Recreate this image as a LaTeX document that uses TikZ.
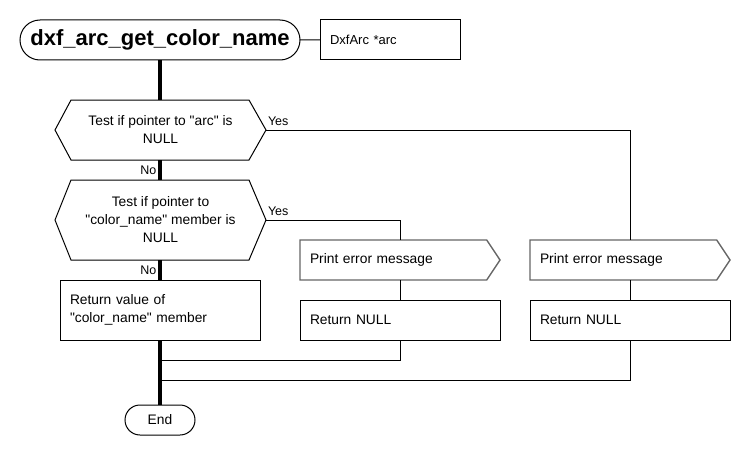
\documentclass[tikz,border=0pt]{standalone}
\usepackage{fontspec}
\setmainfont{Liberation Sans}
\usepackage{tikz}
\usetikzlibrary{shapes.misc,positioning}

\newcommand{\txt}{\fontsize{13.8}{18}\selectfont}
\newcommand{\lbltxt}{\fontsize{12.5}{15}\selectfont}
\newcommand{\q}{\textquotedbl}
% outline of a test node: a flat hexagon around the node box
\newcommand{\hexframe}[1]{\draw[line width=1pt] (#1.west) -- ([xshift=16pt]#1.north west) -- ([xshift=-17pt]#1.north east) -- (#1.east) -- ([xshift=-17pt]#1.south east) -- ([xshift=16pt]#1.south west) -- cycle;}
% outline of an output node: a box with a pointed right side
\newcommand{\msgframe}[1]{\draw[draw=black!60, line width=1.4pt] (#1.north west) -- ([xshift=-13.3pt]#1.north east) -- (#1.east) -- ([xshift=-13.3pt]#1.south east) -- (#1.south west) -- cycle;}

\begin{document}
\begin{tikzpicture}[x=1pt,y=-1pt]
\tikzstyle{every node}+=[inner sep=0pt, outer sep=0pt]
\tikzstyle{flow}=[line width=3.2pt]
\tikzstyle{link}=[line width=1pt]
\tikzstyle{term}=[draw, line width=1pt, rounded rectangle]
\tikzstyle{test}=[rectangle, align=center, font=\txt]
\tikzstyle{proc}=[draw, line width=1pt, rectangle, align=left, font=\txt]
\tikzstyle{msgbox}=[rectangle, align=left, font=\txt]
\tikzstyle{lbl}=[font=\lbltxt, inner sep=2pt]
\useasboundingbox (0,0) rectangle (750,460);

% function header and its argument
\node[term, minimum width=280pt, minimum height=40pt, font=\fontsize{22}{26}\bfseries] (func) at (160,40) {dxf\_arc\_get\_color\_name};
\node[proc, minimum width=140pt, minimum height=40pt, text width=120pt] (arg) at (390,40) {\fontsize{13}{16}\selectfont DxfArc *arc};
\draw[link] (func) -- (arg);

% checks
\node[test, minimum width=211pt, minimum height=60pt] (tarc) at (160.5,130) {Test if pointer to \q arc\q{} is\\NULL};
\hexframe{tarc}
\node[test, minimum width=211pt, minimum height=80pt] (tname) at (160.5,220) {Test if pointer to\\\q color\_name\q{} member is\\NULL};
\hexframe{tname}
\node[proc, minimum width=200pt, minimum height=60pt, text width=180pt] (retval) at (160,310) {Return value of\\\q color\_name\q{} member};
\node[term, minimum width=70pt, minimum height=30pt, font=\txt] (end) at (160,420) {End};

% error branches
\node[msgbox, minimum width=200pt, minimum height=40pt, text width=180pt] (err1) at (400,260) {Print error message};
\msgframe{err1}
\node[proc, minimum width=200pt, minimum height=40pt, text width=180pt] (null1) at (400,320) {Return NULL};
\node[msgbox, minimum width=200pt, minimum height=40pt, text width=180pt] (err2) at (630,260) {Print error message};
\msgframe{err2}
\node[proc, minimum width=200pt, minimum height=40pt, text width=180pt] (null2) at (630,320) {Return NULL};

\coordinate (j1) at (160,360);
\coordinate (j2) at (160,380);

% main line
\draw[flow] (func.south) -- (160,100);
\draw[flow] (160,160) -- (160,180) node[lbl, pos=0.5, left=1.6pt] {No};
\draw[flow] (160,260) -- (160,280) node[lbl, pos=0.5, left=1.6pt] {No};
\draw[flow] (retval.south) -- (end.north);

% yes branches
\draw[link] (tarc.east) -| (err2.north) node[lbl, pos=0, anchor=south west, yshift=2.5pt] {Yes};
\draw[link] (tname.east) -| (err1.north) node[lbl, pos=0, anchor=south west, yshift=2.5pt] {Yes};
\draw[link] (err1) -- (null1);
\draw[link] (err2) -- (null2);
\draw[link] (null1.south) |- (j1);
\draw[link] (null2.south) |- (j2);
\end{tikzpicture}
\end{document}
